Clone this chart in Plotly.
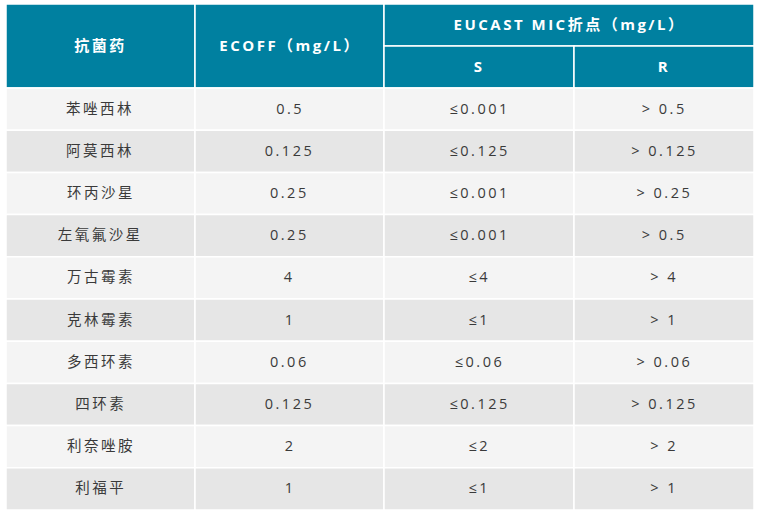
import plotly.graph_objects as go

# 表格数据
drugs = ["苯唑西林", "阿莫西林", "环丙沙星", "左氧氟沙星", "万古霉素",
         "克林霉素", "多西环素", "四环素", "利奈唑胺", "利福平"]
ecoff = ["0.5", "0.125", "0.25", "0.25", "4", "1", "0.06", "0.125", "2", "1"]
s_bp = ["≤0.001", "≤0.125", "≤0.001", "≤0.001", "≤4", "≤1", "≤0.06", "≤0.125", "≤2", "≤1"]
r_bp = ["> 0.5", "> 0.125", "> 0.25", "> 0.5", "> 4", "> 1", "> 0.06", "> 0.125", "> 2", "> 1"]
head_top = ["抗菌药", "ECOFF（mg/L）", "EUCAST MIC折点（mg/L）"]
head_sub = ["S", "R"]

# 布局
col_x = [6, 195, 384, 574, 754]
y_top, y_mid, y_head = 4, 46, 88
row_h = 42.2
teal = "#0080a0"
row_colors = ["#f4f4f4", "#e6e6e6"]
font_cn = "Open Sans, Noto Sans CJK SC, sans-serif"

fig = go.Figure()
shapes = []
ann = []

def cell(x0, x1, y0, y1, color):
    shapes.append(dict(type="rect", xref="x", yref="y", x0=x0, x1=x1, y0=y0, y1=y1,
                       fillcolor=color, line=dict(color="white", width=1.5), layer="below"))

def label(x, y, text, head=False):
    ann.append(dict(x=x, y=y - 1, xref="x", yref="y", text=text, showarrow=False,
                    font=dict(family=font_cn, size=15 if head else 14.5,
                              color="white" if head else "#3a3a3a",
                              weight="bold" if head else "normal")))

# 表头
cell(col_x[0], col_x[1], y_top, y_head, teal)
cell(col_x[1], col_x[2], y_top, y_head, teal)
cell(col_x[2], col_x[4], y_top, y_mid, teal)
cell(col_x[2], col_x[3], y_mid, y_head, teal)
cell(col_x[3], col_x[4], y_mid, y_head, teal)
label((col_x[0] + col_x[1]) / 2, (y_top + y_head) / 2, head_top[0], True)
label((col_x[1] + col_x[2]) / 2, (y_top + y_head) / 2, head_top[1], True)
label((col_x[2] + col_x[4]) / 2, (y_top + y_mid) / 2, head_top[2], True)
label((col_x[2] + col_x[3]) / 2, (y_mid + y_head) / 2, head_sub[0], True)
label((col_x[3] + col_x[4]) / 2, (y_mid + y_head) / 2, head_sub[1], True)

# 表体
for i, row in enumerate(zip(drugs, ecoff, s_bp, r_bp)):
    y0 = y_head + i * row_h
    y1 = y0 + row_h
    for j, txt in enumerate(row):
        cell(col_x[j], col_x[j + 1], y0, y1, row_colors[i % 2])
        label((col_x[j] + col_x[j + 1]) / 2, (y0 + y1) / 2, txt)

fig.add_trace(go.Scatter(x=[0, 760], y=[0, 516], mode="markers",
                         marker=dict(opacity=0), hoverinfo="skip", showlegend=False))

fig.update_layout(
    width=760, height=516,
    margin=dict(l=0, r=0, t=0, b=0),
    paper_bgcolor="white", plot_bgcolor="white",
    xaxis=dict(range=[0, 760], visible=False, fixedrange=True),
    yaxis=dict(range=[516, 0], visible=False, fixedrange=True),
    shapes=shapes, annotations=ann,
)

# 去掉页面边距，给文字加字间距
js = """
document.body.style.margin = '0';
document.querySelectorAll('.annotation-text').forEach(function (t) {
    t.style.letterSpacing = '2.5px';
});
"""
fig.write_html("out.html", post_script=js, config={"displayModeBar": False})
